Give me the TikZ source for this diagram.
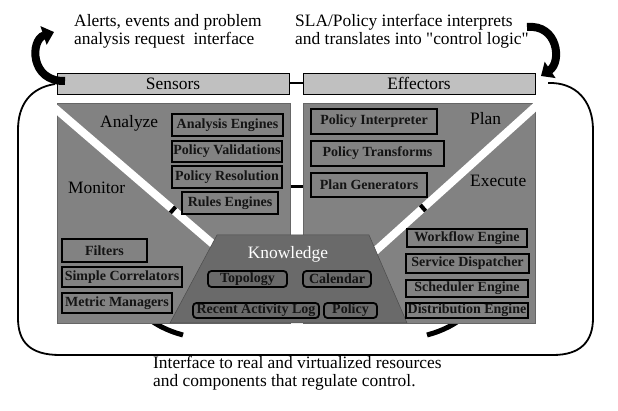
\documentclass[tikz,border=0pt]{standalone}
\usepackage{fontspec}
\setmainfont{Liberation Serif}
\usetikzlibrary{arrows.meta}
\definecolor{panel}{HTML}{828282}
\definecolor{know}{HTML}{6A6A6A}
\definecolor{barfill}{HTML}{C0C0C0}
\definecolor{txt}{HTML}{141414}
\begin{document}
\begin{tikzpicture}[x=1pt,y=-1pt,
  lbl/.style={font=\fontsize{17.4}{17.4}\selectfont, inner sep=0, align=left, text=black},
  cbox/.style={draw=black, line width=1.8pt, fill=panel, text=txt, inner sep=0,
    font=\fontsize{14}{14}\selectfont\bfseries},
  kbox/.style={cbox, fill=know, rounded corners=3.5pt},
  barbox/.style={draw=black, line width=0.9pt, fill=barfill, inner sep=0,
    font=\fontsize{17.4}{17.4}\selectfont, minimum width=232pt, minimum height=21pt},
  panelbg/.style={fill=panel, draw=black!60, line width=0.5pt, inner sep=0, anchor=north west},
  band/.style={white, line width=8pt},
  linkmark/.style={black, line width=8pt},
  bigarrow/.style={line width=8pt, -{Triangle[length=11pt,width=19pt]}},
  outerline/.style={line width=1.8pt},
  underarc/.style={line width=5pt},
]
\useasboundingbox (0,0) rectangle (618,411);

% outer loop
\coordinate (oL) at (55,84);
\coordinate (oR) at (548,83);
\draw[outerline] (oL) .. controls (30,88) and (18,105) .. (18,130) -- (18,318)
  .. controls (18,342) and (30,355) .. (60,355) -- (553,355)
  .. controls (580,355) and (593,342) .. (593,318) -- (593,130)
  .. controls (593,100) and (575,82) .. (oR);

% loop pieces under the panels
\coordinate (al1) at (140,312); \coordinate (al2) at (183,335);
\coordinate (ar1) at (427,335); \coordinate (ar2) at (470,312);
\draw[underarc] (al1) .. controls (155,325) and (168,331) .. (al2);
\draw[underarc] (ar1) .. controls (442,331) and (455,325) .. (ar2);

% panels
\node[panelbg, minimum width=233pt, minimum height=220pt] (lp) at (57,103) {};
\node[panelbg, minimum width=232pt, minimum height=220pt] (rp) at (303,103) {};

% diagonal separating bands
\coordinate (bl1) at (47,101.4); \coordinate (bl2) at (216,246.7);
\coordinate (br1) at (545,98); \coordinate (br2) at (372,254);
\draw[band] (bl1) -- (bl2);
\draw[band] (br1) -- (br2);
\coordinate (ml1) at (171.5,208.5); \coordinate (ml2) at (174.5,211.1);
\coordinate (mr1) at (424.5,206.7); \coordinate (mr2) at (421.5,209.3);
\draw[linkmark] (ml1) -- (ml2);
\draw[linkmark] (mr1) -- (mr2);

% link between panels
\coordinate (mid) at (296,187);
\draw[line width=3pt] (lp.east |- mid) -- (rp.west |- mid);

% knowledge trapezoid
\coordinate (k1) at (217,235); \coordinate (k2) at (369,235);
\coordinate (k3) at (407,323); \coordinate (k4) at (170,323);
\draw[fill=know, draw=black!70, line width=0.5pt] (k1) -- (k2) -- (k3) -- (k4) -- cycle;
\node[lbl, text=white] (kn) at (288,254) {Knowledge};
\node[kbox, minimum width=79pt, minimum height=16pt] (to) at (247.5,279) {Topology};
\node[kbox, minimum width=68pt, minimum height=16pt] (ca) at (337,279) {Calendar};
\node[kbox, minimum width=126pt, minimum height=15pt] (ra) at (256,310.5) {Recent Activity Log};
\node[kbox, minimum width=53pt, minimum height=15pt] (po) at (350.5,310.5) {Policy};

% Analyze
\node[lbl, anchor=base west] (an) at (100,128) {Analyze};
\node[cbox, minimum width=111pt, minimum height=22pt] (ae) at (227.5,125) {Analysis Engines};
\node[cbox, minimum width=110pt, minimum height=21pt] (pv) at (227,151.5) {Policy Validations};
\node[cbox, minimum width=110pt, minimum height=22pt] (pr) at (227,177) {Policy Resolution};
\node[cbox, minimum width=96pt, minimum height=22pt] (re) at (230,203) {Rules Engines};

% Monitor
\node[lbl, anchor=base west] (mo) at (68,194) {Monitor};
\node[cbox, minimum width=85pt, minimum height=23pt] (fi) at (104.5,250.5) {Filters};
\node[cbox, minimum width=120pt, minimum height=20pt] (sc) at (122,277) {Simple Correlators};
\node[cbox, minimum width=110pt, minimum height=20pt] (mm) at (117,303) {Metric Managers};

% Plan
\node[lbl, anchor=base west] (pl) at (470,125) {Plan};
\node[cbox, minimum width=126pt, minimum height=25pt] (pi) at (374,121.5) {Policy Interpreter};
\node[cbox, minimum width=133pt, minimum height=25pt] (pt) at (377.5,153.5) {Policy Transforms};
\node[cbox, minimum width=116pt, minimum height=24pt] (pg) at (369,185) {Plan Generators};

% Execute
\node[lbl, anchor=base west] (ex) at (470,187) {Execute};
\node[cbox, minimum width=120pt, minimum height=18pt] (we) at (467,238) {Workflow Engine};
\node[cbox, minimum width=123pt, minimum height=19pt] (sd) at (467.5,263.5) {Service Dispatcher};
\node[cbox, minimum width=122pt, minimum height=17pt] (se) at (467,288.5) {Scheduler Engine};
\node[cbox, minimum width=122pt, minimum height=15pt] (de) at (467,310.5) {Distribution Engine};

% sensor / effector bars
\node[barbox] (sens) at (173,83.5) {Sensors};
\node[barbox] (eff) at (419,83.5) {Effectors};
\draw[line width=2pt] (sens.east) -- (eff.west);

% big interface arrows
\coordinate (la1) at (65,81); \coordinate (la2) at (54,32);
\draw[bigarrow] (la1) .. controls (30,82) and (30,40) .. (la2);
\coordinate (ra1) at (527,27); \coordinate (ra2) at (541,76);
\draw[bigarrow] (ra1) .. controls (558,24) and (562,62) .. (ra2);

% texts
\node[lbl, anchor=north west] (t1) at (74,14.5) {Alerts, events and problem\\analysis request\ \ interface};
\node[lbl, anchor=north west] (t2) at (295,14.5) {SLA/Policy interface interprets\\and translates into \textquotedbl control logic\textquotedbl};
\node[lbl, anchor=north west] (t3) at (153,356.5) {Interface to real and virtualized resources\\and components that regulate control.};
\end{tikzpicture}
\end{document}
